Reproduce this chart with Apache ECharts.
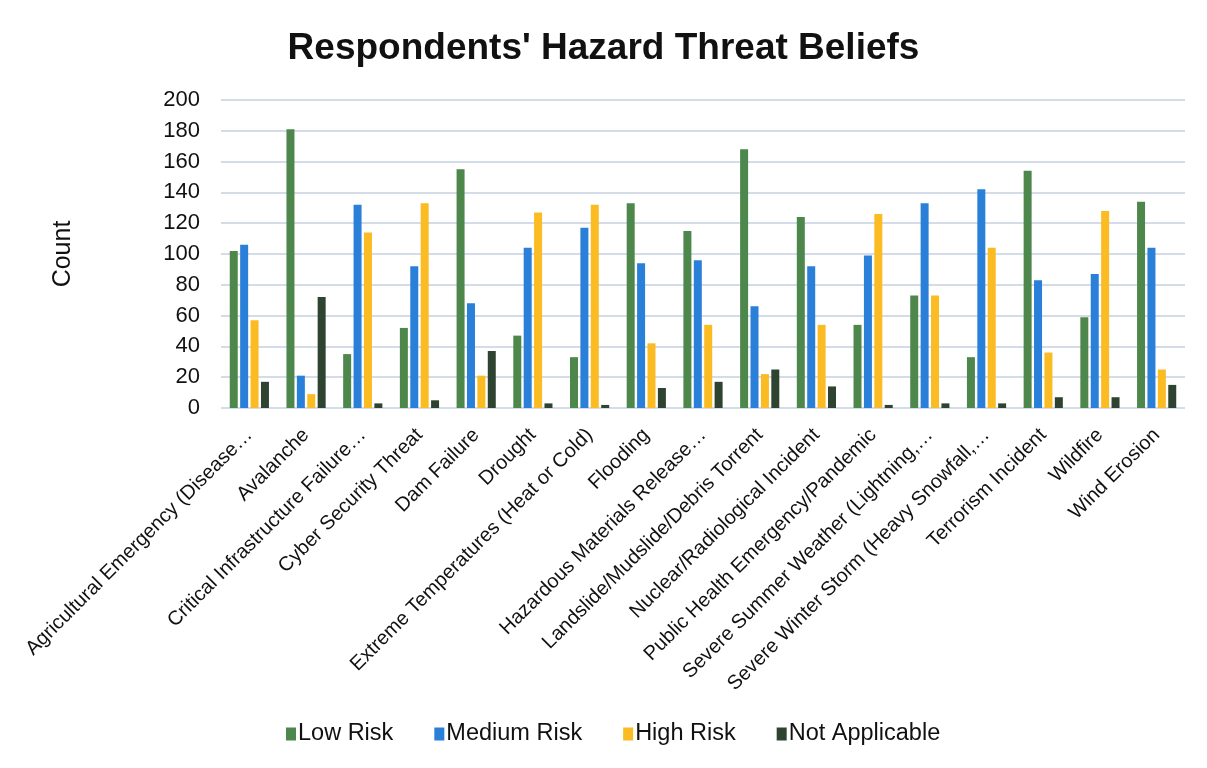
<!DOCTYPE html>
<html>
<head>
<meta charset="utf-8">
<script src="https://cdn.jsdelivr.net/npm/echarts@6/dist/echarts.min.js"></script>
<style>
html,body{margin:0;padding:0;background:#fff;}
#c{width:1207px;height:768px;}
</style>
</head>
<body>
<div id="c"></div>
<script>
const categories = [
  "Agricultural Emergency (Disease…",
  "Avalanche",
  "Critical Infrastructure Failure…",
  "Cyber Security Threat",
  "Dam Failure",
  "Drought",
  "Extreme Temperatures (Heat or Cold)",
  "Flooding",
  "Hazardous Materials Release…",
  "Landslide/Mudslide/Debris Torrent",
  "Nuclear/Radiological Incident",
  "Public Health Emergency/Pandemic",
  "Severe Summer Weather (Lightning,…",
  "Severe Winter Storm (Heavy Snowfall,…",
  "Terrorism Incident",
  "Wildfire",
  "Wind Erosion"
];
const lowRisk      = [102, 181, 35, 52, 155, 47, 33, 133, 115, 168, 124, 54, 73, 33, 154, 59, 134];
const mediumRisk   = [106, 21, 132, 92, 68, 104, 117, 94, 96, 66, 92, 99, 133, 142, 83, 87, 104];
const highRisk     = [57, 9, 114, 133, 21, 127, 132, 42, 54, 22, 54, 126, 73, 104, 36, 128, 25];
const notApplicable= [17, 72, 3, 5, 37, 3, 2, 13, 17, 25, 14, 2, 3, 3, 7, 7, 15];
const seriesNames = ["Low Risk", "Medium Risk", "High Risk", "Not Applicable"];
const yTicks = [0, 20, 40, 60, 80, 100, 120, 140, 160, 180, 200];

const colors = ["#4e874b", "#2a7fd8", "#fbbb22", "#2f4430"];
const font = "Liberation Sans, Arial, sans-serif";
const chart = echarts.init(document.getElementById('c'), null, {renderer: 'canvas'});
const dataSets = [lowRisk, mediumRisk, highRisk, notApplicable];

chart.setOption({
  backgroundColor: '#ffffff',
  animation: false,
  title: {
    text: "Respondents' Hazard Threat Beliefs",
    left: 'center',
    top: 25,
    textStyle: {fontFamily: font, fontWeight: 'bold', fontSize: 37, color: '#111'}
  },
  legend: {
    data: seriesNames,
    bottom: 17,
    left: 281,
    itemWidth: 10,
    itemHeight: 13,
    itemGap: 41,
    icon: 'rect',
    textStyle: {fontFamily: font, fontSize: 23.5, color: '#111', padding: [0, 0, 0, -3]}
  },
  grid: {left: 221, right: 22, top: 100, bottom: 360},
  xAxis: {
    type: 'category',
    data: categories,
    axisLine: {show: false},
    axisTick: {show: false},
    axisLabel: {
      interval: 0,
      rotate: 45,
      margin: 24,
      fontFamily: font,
      fontSize: 20,
      color: '#111'
    }
  },
  yAxis: {
    type: 'value',
    min: yTicks[0],
    max: yTicks[yTicks.length - 1],
    interval: 20,
    name: 'Count',
    nameLocation: 'middle',
    nameGap: 145,
    nameTextStyle: {fontFamily: font, fontSize: 25, color: '#111'},
    axisLine: {show: false},
    axisTick: {show: false},
    axisLabel: {fontFamily: font, fontSize: 22, color: '#111', margin: 21},
    splitLine: {lineStyle: {color: '#d3dce7', width: 2}}
  },
  series: seriesNames.map((n, i) => ({
    name: n,
    type: 'bar',
    data: dataSets[i],
    barWidth: 8,
    barGap: '30%',
    itemStyle: {color: colors[i]}
  }))
});
</script>
</body>
</html>
